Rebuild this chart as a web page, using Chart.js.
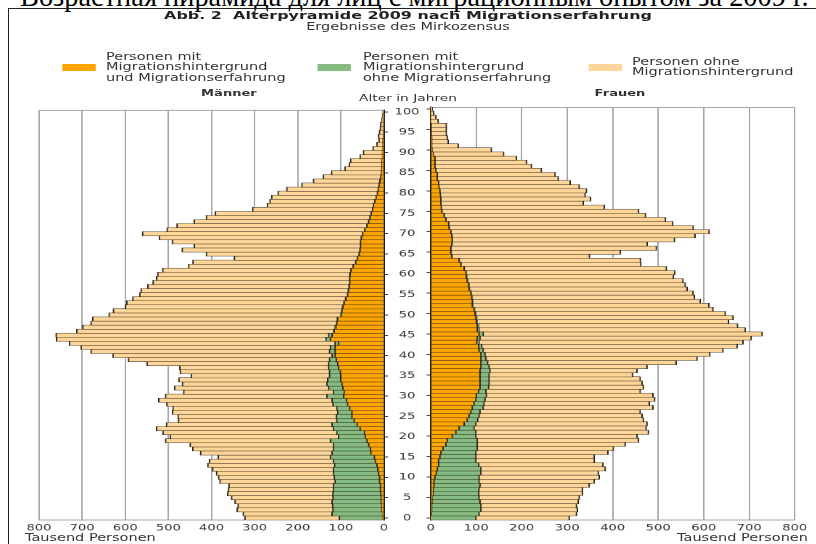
<!DOCTYPE html>
<html lang="de">
<head>
<meta charset="utf-8">
<title>Alterpyramide 2009 nach Migrationserfahrung</title>
<script src="https://cdn.jsdelivr.net/npm/chart.js@4.4.1/dist/chart.umd.min.js"></script>
<style>
  html, body { margin: 0; padding: 0; background: #fff; }
  body { width: 816px; height: 544px; position: relative; overflow: hidden;
         font-family: 'DejaVu Sans', sans-serif; color: #333; }
  #caption { position: absolute; left: 20px; top: -16px; white-space: nowrap;
             font-family: 'Liberation Serif', serif; font-size: 27px; line-height: 27px; color: #000; }
  #frame { position: absolute; left: 8px; top: 8px; right: -5px; bottom: -5px;
           border-left: 1px solid #222; border-top: 1px solid #222; }
  /* the original figure is stretched sideways, so the whole stage is too */
  #stage { position: absolute; left: 0; top: 0; width: 562.8px; height: 544px;
           transform: scaleX(1.45); transform-origin: 0 0; }
  .t { position: absolute; white-space: nowrap; }
  .sw { position: absolute; top: 64px; width: 23px; height: 7px; }
  .lt { position: absolute; white-space: nowrap; font-size: 10px; line-height: 10.5px; }
  .head { position: absolute; width: 100px; text-align: center; line-height: 12px; }
  .box { position: absolute; top: 100px; height: 444px; }
</style>
</head>
<body>
<div id="caption">Возрастная пирамида для лиц с миграционным опытом за 2009 г.</div>
<div id="frame"></div>
<div id="stage">
  <div class="t" style="left:0;width:100%;text-align:center;top:10px;line-height:12px;font-size:11px;font-weight:bold;color:#222">Abb. 2&nbsp; Alterpyramide 2009 nach Migrationserfahrung</div>
  <div class="t" style="left:0;width:100%;text-align:center;top:21px;line-height:12px;font-size:10px">Ergebnisse des Mirkozensus</div>

  <div class="sw" style="left:42.8px;background:#ffa500"></div>
  <div class="lt" style="left:73.1px;top:51.5px">Personen mit<br>Migrationshintergrund<br>und Migrationserfahrung</div>
  <div class="sw" style="left:219.3px;background:#86bc82"></div>
  <div class="lt" style="left:250.3px;top:51.5px">Personen mit<br>Migrationshintergrund<br>ohne Migrationserfahrung</div>
  <div class="sw" style="left:405.5px;background:#ffd699"></div>
  <div class="lt" style="left:435.9px;top:56.75px">Personen ohne<br>Migrationshintergrund</div>

  <div class="head" style="left:107.9px;top:87px;font-size:9px;font-weight:bold">Männer</div>
  <div class="head" style="left:231.4px;top:92px;font-size:9.5px">Alter in Jahren</div>
  <div class="head" style="left:377.6px;top:87px;font-size:9px;font-weight:bold">Frauen</div>

  <div class="box" style="left:0;width:300px"><canvas id="men"></canvas></div>
  <div class="box" style="left:280px;width:282.8px"><canvas id="women"></canvas></div>

  <div class="t" style="left:17.2px;top:532px;line-height:12px;font-size:10px">Tausend Personen</div>
  <div class="t" style="right:5.6px;top:532px;line-height:12px;font-size:10px">Tausend Personen</div>
</div>

<script>
// Alter in Jahren, 0 bis 100
const ages = [
  0, 1, 2, 3, 4, 5, 6, 7, 8, 9, 10, 11, 12, 13, 14, 15, 16, 17, 18, 19,
  20, 21, 22, 23, 24, 25, 26, 27, 28, 29, 30, 31, 32, 33, 34, 35, 36, 37, 38, 39,
  40, 41, 42, 43, 44, 45, 46, 47, 48, 49, 50, 51, 52, 53, 54, 55, 56, 57, 58, 59,
  60, 61, 62, 63, 64, 65, 66, 67, 68, 69, 70, 71, 72, 73, 74, 75, 76, 77, 78, 79,
  80, 81, 82, 83, 84, 85, 86, 87, 88, 89, 90, 91, 92, 93, 94, 95, 96, 97, 98, 99, 100
];
const ageLabelStep = 5;

const seriesNames = [
  'Personen mit Migrationshintergrund und Migrationserfahrung',
  'Personen mit Migrationshintergrund ohne Migrationserfahrung',
  'Personen ohne Migrationshintergrund'
];

// Männer, Tausend Personen (Alter 0 bis 100)
const menWithExp = [
  3, 4, 5, 6, 7, 7, 8, 9, 9, 11,
  11, 13, 15, 17, 21, 23, 31, 32, 36, 40,
  44, 46, 56, 63, 70, 75, 75, 80, 85, 88,
  94, 93, 96, 98, 101, 101, 102, 106, 108, 111,
  114, 114, 114, 106, 125, 121, 116, 112, 110, 108,
  100, 98, 96, 93, 89, 85, 83, 81, 80, 80,
  79, 77, 72, 66, 62, 58, 56, 55, 55, 53,
  50, 45, 40, 36, 33, 30, 27, 25, 22, 19,
  16, 14, 12, 10, 8, 6, 6, 5, 5, 4,
  4, 3, 3, 3, 2, 2, 1.5, 1, 1, 0.5,
  0
];
const menNoExp = [
  101, 117, 114, 114, 114, 112, 111, 109, 109, 103,
  105, 105, 103, 98, 97, 102, 90, 86, 82, 85,
  62, 64, 62, 58, 40, 36, 33, 30, 34, 33,
  39, 25, 33, 35, 30, 26, 25, 23, 21, 16,
  7, 13, 11, 8, 10, 8, 2, 2, 1, 1,
  1, 1, 1, 1, 1, 1, 1, 1, 1, 1,
  1, 0.5, 0.5, 0.5, 0.5, 0.5, 0.5, 0.5, 0.5, 0.5,
  0.5, 0.5, 0.5, 0.5, 0.5, 0.5, 0, 0, 0, 0,
  0, 0, 0, 0, 0, 0, 0, 0, 0, 0,
  0, 0, 0, 0, 0, 0, 0, 0, 0, 0,
  0
];
const menNoBg = [
  219, 206, 222, 219, 225, 235, 244, 243, 242, 267,
  268, 271, 280, 294, 287, 260, 305, 326, 332, 382,
  390, 403, 410, 384, 367, 367, 383, 380, 385, 402,
  374, 347, 357, 335, 345, 320, 346, 345, 421, 466,
  508, 553, 578, 616, 625, 632, 595, 585, 569, 567,
  537, 529, 503, 503, 493, 481, 480, 466, 455, 447,
  445, 436, 381, 377, 285, 354, 412, 385, 436, 468,
  510, 458, 440, 404, 379, 361, 278, 246, 243, 242,
  230, 212, 179, 154, 133, 116, 85, 76, 73, 52,
  44, 23, 14, 9, 11, 9, 7.5, 7, 4, 3.5,
  3
];

// Frauen, Tausend Personen (Alter 0 bis 100)
const womenWithExp = [
  1, 2, 3, 3, 4, 4, 6, 6, 8, 8,
  10, 13, 15, 18, 18, 21, 23, 28, 34, 37,
  48, 56, 63, 74, 81, 85, 89, 92, 96, 100,
  101, 106, 109, 109, 109, 109, 109, 111, 111, 111,
  111, 107, 106, 102, 103, 107, 103, 103, 101, 100,
  98, 96, 92, 92, 91, 89, 85, 84, 81, 79,
  78, 74, 67, 63, 47, 45, 45, 47, 48, 47,
  45, 41, 40, 34, 30, 25, 24, 23, 23, 22,
  21, 19, 18, 15, 15, 12, 10, 10, 10, 6,
  4, 3, 3, 3, 2, 2, 2, 1, 1, 0.5,
  0.5
];
const womenNoExp = [
  99, 105, 108, 108, 105, 103, 100, 101, 101, 99,
  97, 98, 96, 88, 82, 79, 77, 75, 69, 66,
  52, 44, 33, 26, 23, 22, 20, 24, 22, 20,
  22, 16, 19, 20, 20, 20, 22, 18, 15, 11,
  9, 9, 7, 5, 6, 9, 4, 3, 2, 2,
  2, 1, 1, 1, 1, 1, 1, 1, 1, 1,
  1, 0.5, 0.5, 0.5, 0.5, 0.5, 0.5, 0.5, 0.5, 0.5,
  0.5, 0.5, 0.5, 0.5, 0.5, 0.5, 0, 0, 0, 0,
  0, 0, 0, 0, 0, 0, 0, 0, 0, 0,
  0, 0, 0, 0, 0, 0, 0, 0, 0, 0,
  0
];
const womenNoBg = [
  205, 214, 212, 210, 216, 220, 228, 227, 240, 253,
  264, 258, 273, 273, 260, 260, 290, 299, 325, 354,
  354, 379, 378, 376, 364, 358, 352, 373, 363, 373,
  366, 339, 340, 336, 332, 315, 323, 347, 414, 464,
  494, 527, 561, 580, 596, 613, 585, 569, 552, 563,
  548, 524, 519, 500, 488, 487, 478, 475, 473, 454,
  458, 444, 395, 398, 302, 372, 451, 429, 488, 534,
  567, 536, 492, 482, 442, 432, 358, 313, 329, 318,
  322, 308, 289, 266, 259, 232, 212, 201, 179, 155,
  130, 58, 36, 34, 33, 33, 33, 16, 11, 6.5,
  3.5
];

// russische Bildunterschrift auf die Breite des Originals bringen
const cap = document.getElementById('caption');
const capSize = 27 * 789 / cap.getBoundingClientRect().width;
cap.style.fontSize = capSize + 'px';
cap.style.lineHeight = capSize + 'px';
cap.style.top = (7 - 0.8375 * capSize) + 'px';

Chart.defaults.font.family = "'DejaVu Sans', sans-serif";
Chart.defaults.color = '#333';

const barColors = ['#ffa500', '#86bc82', '#ffd699'];

function datasets(withExp, noExp, noBg) {
  return [withExp, noExp, noBg].map((values, i) => ({
    label: seriesNames[i],
    data: values,
    backgroundColor: barColors[i],
    borderColor: '#2a2418',
    borderWidth: { top: 0.5, bottom: 0.5, left: 1, right: 1 },
    borderSkipped: 'start',
    barPercentage: 1,
    categoryPercentage: 1
  }));
}

// obere Rahmenlinie des Diagrammfelds
const topLine = {
  id: 'topLine',
  beforeDatasetsDraw(chart) {
    const { ctx, chartArea: a } = chart;
    ctx.save();
    ctx.strokeStyle = '#a6a6a6';
    ctx.lineWidth = 1;
    ctx.beginPath();
    ctx.moveTo(a.left, a.top + 0.5);
    ctx.lineTo(a.right, a.top + 0.5);
    ctx.stroke();
    ctx.restore();
  }
};

const ageTick = (value, index) => ages[index] % ageLabelStep === 0 ? String(ages[index]) : '';
const ageTickColor = ctx => ages[ctx.index] % ageLabelStep === 0 ? '#444' : 'rgba(0,0,0,0)';

function options(side) {
  const left = side === 'men';
  return {
    indexAxis: 'y',
    responsive: true,
    maintainAspectRatio: false,
    animation: false,
    devicePixelRatio: 2,
    layout: { padding: { left: left ? 26.9 : 0, right: left ? 0 : 15.2, top: 7, bottom: 0 } },
    plugins: { legend: { display: false }, tooltip: { enabled: false } },
    scales: {
      x: {
        type: 'linear',
        stacked: true,
        reverse: left,
        min: 0,
        max: 800,
        ticks: { stepSize: 100, padding: 3, font: { size: 9 }, color: '#333' },
        grid: { color: '#a6a6a6', lineWidth: 1, drawTicks: false },
        border: { color: '#a6a6a6' },
        afterFit: s => { s.height = 24; }
      },
      y: {
        type: 'category',
        stacked: true,
        reverse: true,
        position: left ? 'right' : 'left',
        ticks: {
          display: left,
          autoSkip: false,
          callback: ageTick,
          crossAlign: 'center',
          padding: 4.5,
          font: { size: 9 },
          color: '#333'
        },
        grid: { drawOnChartArea: false, offset: false, tickLength: 2.8, color: ageTickColor },
        border: { color: '#222', width: 1 },
        afterFit: s => { s.width = left ? 35.2 : 17.0; }
      }
    }
  };
}

new Chart(document.getElementById('men'), {
  type: 'bar',
  data: { labels: ages, datasets: datasets(menWithExp, menNoExp, menNoBg) },
  options: options('men'),
  plugins: [topLine]
});

new Chart(document.getElementById('women'), {
  type: 'bar',
  data: { labels: ages, datasets: datasets(womenWithExp, womenNoExp, womenNoBg) },
  options: options('women'),
  plugins: [topLine]
});
</script>
</body>
</html>
